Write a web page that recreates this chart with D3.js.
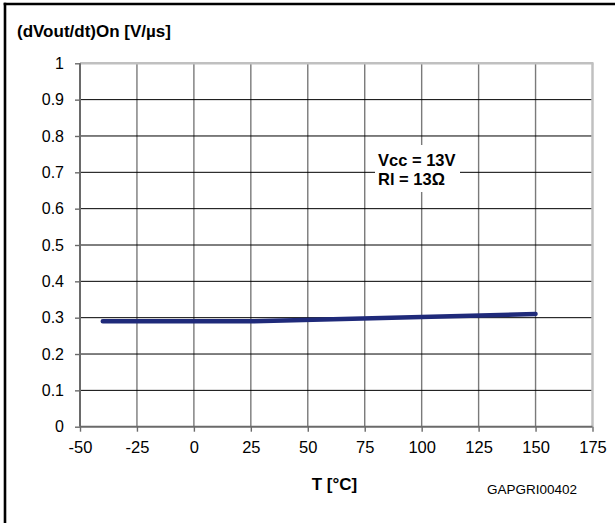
<!DOCTYPE html>
<html><head><meta charset="utf-8">
<script src="https://cdn.jsdelivr.net/npm/d3@7"></script>
<style>body{margin:0;background:#fff}svg{display:block;font-family:"Liberation Sans",Arial,sans-serif}</style>
</head><body>
<svg id="c" width="615" height="523"></svg>
<script>
const temps = [-40, 25, 150];
const slope = [0.29, 0.29, 0.31];
const xTicks = [-50, -25, 0, 25, 50, 75, 100, 125, 150, 175];
const yTicks = [0, 0.1, 0.2, 0.3, 0.4, 0.5, 0.6, 0.7, 0.8, 0.9, 1];
const yTitle = "(dVout/dt)On [V/µs]";
const xTitle = "T [°C]";
const code = "GAPGRI00402";
const notes = ["Vcc = 13V", "Rl = 13Ω"];

const svg = d3.select("#c");
const x = d3.scaleLinear().domain([-50, 175]).range([80, 592.5]);
const y = d3.scaleLinear().domain([0, 1]).range([426.7, 63.3]);

// outer frame (left & top)
svg.append("line").attr("x1",5).attr("x2",5).attr("y1",2.7).attr("y2",523).attr("stroke","#000").attr("stroke-width",2.6);
svg.append("line").attr("x1",3.7).attr("x2",615).attr("y1",4).attr("y2",4).attr("stroke","#000").attr("stroke-width",2.6);

// vertical grid
svg.append("g").selectAll("line").data(xTicks.slice(1,-1)).join("line")
  .attr("x1",d=>x(d)).attr("x2",d=>x(d)).attr("y1",y(1)).attr("y2",y(0))
  .attr("stroke","#7a7a7a").attr("stroke-width",1.4);
// horizontal grid
svg.append("g").selectAll("line").data(yTicks.slice(1,-1)).join("line")
  .attr("x1",x(-50)).attr("x2",x(175)).attr("y1",d=>y(d)).attr("y2",d=>y(d))
  .attr("stroke","#000").attr("stroke-width",1);
// plot border top/right (light grey)
svg.append("line").attr("x1",x(-50)).attr("x2",x(175)+1).attr("y1",y(1)).attr("y2",y(1)).attr("stroke","#c0c0c0").attr("stroke-width",2.5);
svg.append("line").attr("x1",x(175)).attr("x2",x(175)).attr("y1",y(1)).attr("y2",y(0)).attr("stroke","#c0c0c0").attr("stroke-width",2.5);

// axes
const fmt = d => String(d);
const yAxis = d3.axisLeft(y).tickValues(yTicks).tickSize(5).tickPadding(11).tickFormat(fmt);
const gy = svg.append("g").attr("transform",`translate(${x(-50)},0)`).call(yAxis);
const xAxis = d3.axisBottom(x).tickValues(xTicks).tickSize(5).tickPadding(9.5).tickFormat(fmt);
const gx = svg.append("g").attr("transform",`translate(0,${y(0)})`).call(xAxis);
[gx, gy].forEach(g=>{
  g.select(".domain").attr("stroke","#6a6a6a").attr("stroke-width",2);
  g.selectAll(".tick line").attr("stroke","#6a6a6a").attr("stroke-width",1.4);
  g.selectAll("text").attr("fill","#000").attr("font-family","Liberation Sans, Arial, sans-serif");
});
gy.selectAll("text").attr("font-size",16);
gx.selectAll("text").attr("font-size",16.5);
gx.select(".domain").attr("d",`M${x(-50)},0H${x(175)}`);
gy.select(".domain").attr("d",`M0,${y(0)}V${y(1)}`);

// annotation box
svg.append("rect").attr("x",375).attr("y",145).attr("width",85).attr("height",47).attr("fill","#fff");
svg.append("g").selectAll("text").data(notes).join("text")
  .attr("x",378).attr("y",(d,i)=>166+i*19).attr("font-size",16.5).attr("font-weight","bold").text(d=>d);

// curve
svg.append("path").datum(temps.map((t,i)=>[t,slope[i]]))
  .attr("d",d3.line().x(d=>x(d[0])).y(d=>y(d[1])))
  .attr("fill","none").attr("stroke","#1f2a7a").attr("stroke-width",4.5).attr("stroke-linecap","round");

// titles
svg.append("text").attr("x",17).attr("y",37).attr("font-size",17).attr("font-weight","bold").text(yTitle);
svg.append("text").attr("x",334.5).attr("y",490).attr("text-anchor","middle").attr("font-size",17).attr("font-weight","bold").text(xTitle);
svg.append("text").attr("x",487).attr("y",494).attr("font-size",13.5).text(code);
</script>
</body></html>
